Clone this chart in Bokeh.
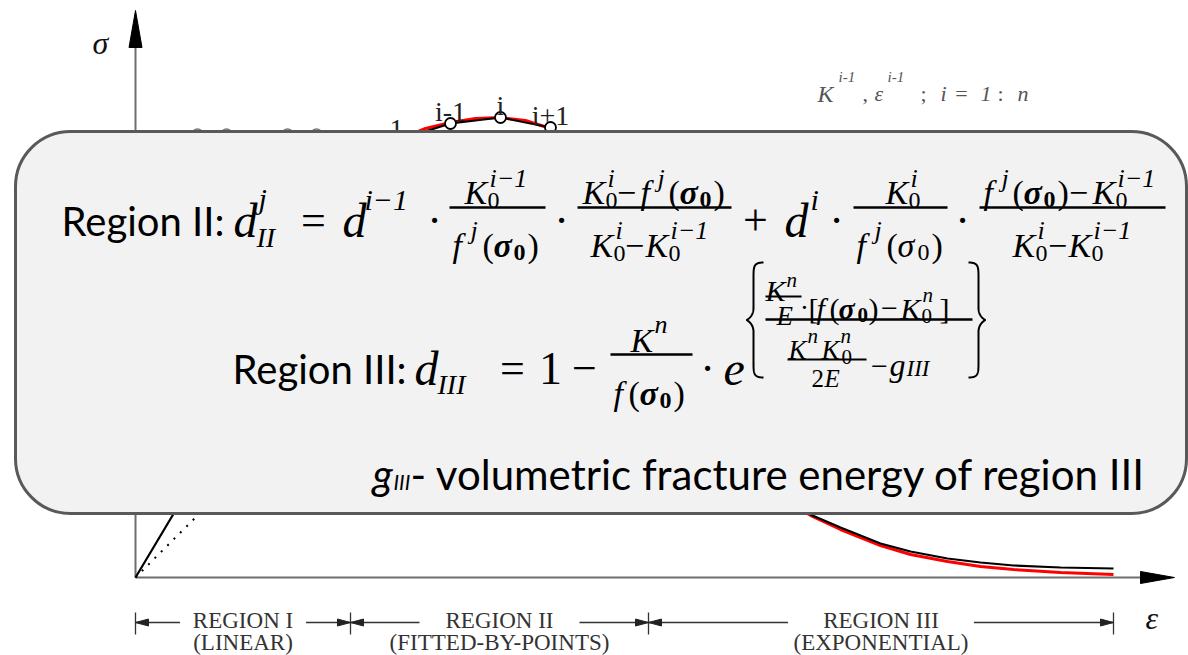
import numpy as np
from bokeh.plotting import figure
from bokeh.models import Range1d, BoxAnnotation, ColumnDataSource
from bokeh.embed import file_html
from bokeh.resources import INLINE

# ---------------- curve data (strain / stress units) ----------------
# Region I: linear elastic branch and dotted secant
lin_eps = [0, 261]
lin_sig = [0, 437]
secant_eps = [0, 190]
secant_sig = [0, 190]

# Region II: fitted points 1 ... i-1, i, i+1
fit_eps = [261, 315, 365, 415]
fit_sig = [437, 454, 460, 450]
fit_labels = ["1", "i-1", "i", "i+1"]

# earlier points of the hardening branch
trail_eps = [62, 91, 152, 181]
trail_sig = [443, 443, 443, 443]

# piecewise model (black) and measured curve (red)
model_eps = [0, 261, 315, 365, 415, 450, 500, 560, 620, 670, 677, 705, 725, 745, 775, 812,
             845, 878, 925, 978]
model_sig = [0, 437, 454, 460, 450, 420, 340, 230, 120, 66, 62, 50, 42, 34, 26, 19,
             15, 12, 10, 9]
actual_eps = [261, 290, 315, 340, 365, 390, 415, 450, 500, 560, 620, 670, 677, 705, 725, 745,
              775, 812, 845, 878, 925, 978]
actual_sig = [437, 449, 455, 459, 460, 457, 449, 418, 338, 228, 118, 65, 61, 48, 40, 32,
              23, 16, 11, 8, 5, 3]

# region extents along the strain axis
region_bounds = [0, 215, 513, 978]
region_names = ["REGION I", "REGION II", "REGION III"]
region_kinds = ["(LINEAR)", "(FITTED-BY-POINTS)", "(EXPONENTIAL)"]
region_gaps = [63, 80, 93]

SANS = "Lato"
SERIF = "Liberation Serif"
AXIS_C = "#6e6e6e"

p = figure(width=1188, height=655, x_range=Range1d(0, 1188), y_range=Range1d(655, 0),
           output_backend="svg", toolbar_location=None, min_border=0,
           x_axis_location=None, y_axis_location=None)
p.grid.visible = False
p.outline_line_color = None
p.background_fill_color = "white"
p.border_fill_color = "white"
p.extra_x_ranges = {"eps": Range1d(-135, 1053)}
p.extra_y_ranges = {"sig": Range1d(-78, 577)}
S = dict(x_range_name="eps", y_range_name="sig")

# ---------------- axes with arrow heads ----------------
p.segment(x0=[0, 0], y0=[0, 0], x1=[1010, 0], y1=[0, 535], line_color=AXIS_C, line_width=2, **S)
p.patches(xs=[[1039, 1005, 1005], [0, -6.5, 6.5]], ys=[[0, 6, -6], [567, 530, 530]],
          fill_color="black", line_color="black", **S)
p.text(x=[92, 1145], y=[42, 617], text=["σ", "ε"], text_font=SERIF, text_font_size="32px",
       text_font_style="italic", text_baseline="alphabetic", text_color="#111")

# ---------------- curves ----------------
p.line(secant_eps, secant_sig, line_color="black", line_width=2, line_dash="2 7", **S)
p.scatter(trail_eps, trail_sig, size=11, marker="circle", fill_color="white",
          line_color="#777", line_width=1.4, **S)
p.line(actual_eps, actual_sig, line_color="#ff0000", line_width=3, **S)
p.line(model_eps, model_sig, line_color="black", line_width=2.2, **S)
p.scatter(fit_eps, fit_sig, size=11, marker="circle", fill_color="white",
          line_color="black", line_width=1.8, **S)
p.text(x=fit_eps, y=[s + 12 for s in fit_sig], text=fit_labels, text_font=SERIF,
       text_font_size="28px", text_align="center", text_baseline="alphabetic",
       text_color="#222", **S)

# ---------------- region dimension line ----------------
DIM_Y = 622
mids = [(a + b) / 2 for a, b in zip(region_bounds[:-1], region_bounds[1:])]
p.segment(x0=region_bounds, y0=[612] * 4, x1=region_bounds, y1=[634] * 4,
          line_color="#333", line_width=1.3, x_range_name="eps")
sx0, sx1, hx, hy = [], [], [], []
for a, b, m, g in zip(region_bounds[:-1], region_bounds[1:], mids, region_gaps):
    sx0 += [a, m + g]
    sx1 += [m - g, b]
    hx += [[a, a + 13, a + 13], [b, b - 13, b - 13]]
    hy += [[DIM_Y, DIM_Y - 3.5, DIM_Y + 3.5]] * 2
p.segment(x0=sx0, y0=[DIM_Y] * len(sx0), x1=sx1, y1=[DIM_Y] * len(sx0),
          line_color="#333", line_width=1.3, x_range_name="eps")
p.patches(xs=hx, ys=hy, fill_color="#222", line_color="#222", x_range_name="eps")
p.text(x=mids, y=[620] * 3, text=region_names, text_font=SERIF, text_font_size="23px",
       text_align="center", text_baseline="alphabetic", text_color="#333", x_range_name="eps")
p.text(x=mids, y=[642] * 3, text=region_kinds, text_font=SERIF, text_font_size="23px",
       text_align="center", text_baseline="alphabetic", text_color="#333", x_range_name="eps")

rows = []


def put(x, y, s, size, style="italic", font=SERIF, align="left", color="black"):
    rows.append(dict(x=x, y=y, text=s, size=f"{size}px", style=style, font=font,
                     align=align, color=color))


def flush(level):
    src = ColumnDataSource(dict(x=[r["x"] for r in rows], y=[r["y"] for r in rows],
                                text=[r["text"] for r in rows], size=[r["size"] for r in rows],
                                style=[r["style"] for r in rows], font=[r["font"] for r in rows],
                                align=[r["align"] for r in rows],
                                color=[r["color"] for r in rows]))
    p.text(x="x", y="y", text="text", text_font="font", text_font_size="size",
           text_font_style="style", text_align="align", text_color="color",
           text_baseline="alphabetic", source=src, level=level)
    rows.clear()


# top-right note on the point sequence
G = "#555"
put(817, 93, "K", 24, color=G)
put(838, 76, "i-1", 15, color=G)
put(862, 93, ",", 22, "normal", color=G)
put(874, 93, "ε", 22, color=G)
put(887, 76, "i-1", 15, color=G)
put(920, 93, ";", 22, "normal", color=G)
put(940, 93, "i", 22, color=G)
put(961, 93, "=", 22, "normal", align="center", color=G)
put(980, 93, "1", 22, color=G)
put(997, 93, ":", 22, "normal", color=G)
put(1017, 93, "n", 22, color=G)
flush("glyph")

# ---------------- formula panel ----------------
panel = BoxAnnotation(left=15, right=1186, top=131, bottom=513, border_radius=55,
                      fill_color="#f2f2f2", fill_alpha=1, line_color="#595959",
                      line_alpha=1, line_width=3)
p.add_layout(panel)

bars = []


def bar(x0, x1, y, w=2.4):
    bars.append((x0, x1, y, w))


def brace(x_end, x_spine, x_tip, top, bottom, n=40):
    mid = (top + bottom) / 2
    t = np.linspace(0, 1, n)

    def cub(p0, p1, p2, p3):
        return ((1 - t) ** 3)[:, None] * p0 + (3 * (1 - t) ** 2 * t)[:, None] * p1 + \
               (3 * (1 - t) * t ** 2)[:, None] * p2 + (t ** 3)[:, None] * p3

    a = np.array
    c1 = cub(a([x_end, top]), a([x_spine, top]), a([x_spine, top + 4]), a([x_spine, top + 16]))
    c2 = cub(a([x_spine, mid - 12]), a([x_spine, mid - 3]), a([x_tip, mid]), a([x_tip, mid]))
    c3 = cub(a([x_tip, mid]), a([x_tip, mid]), a([x_spine, mid + 3]), a([x_spine, mid + 12]))
    c4 = cub(a([x_spine, bottom - 16]), a([x_spine, bottom - 4]), a([x_spine, bottom]), a([x_end, bottom]))
    pts = np.vstack([c1, c2, c3, c4])
    return list(pts[:, 0]), list(pts[:, 1])


# Region II
put(61, 220, "Region II:", 40, "normal", SANS)
put(233, 220, "d", 48)
put(258, 198, "j", 30)
put(256, 237, "II", 28)
put(313, 220, "=", 44, "normal", align="center")
put(342, 220, "d", 48)
put(364, 199, "i−1", 30)
put(434, 220, "·", 44, "normal", align="center")
bar(449, 545, 207)
put(464, 192, "K", 34); put(487, 200, "0", 24, "normal"); put(489, 178, "i−1", 26)
put(452, 245, "f", 34); put(470, 230, "j", 26); put(482, 245, "(", 34, "normal")
put(493, 245, "σ", 34, "bold italic"); put(513, 252, "0", 24, "bold"); put(527, 245, ")", 34, "normal")
put(561, 220, "·", 44, "normal", align="center")
bar(577, 731, 207)
put(582, 192, "K", 34); put(605, 200, "0", 24, "normal"); put(607, 178, "i", 26)
put(626, 192, "−", 34, "normal", align="center")
put(640, 192, "f", 34); put(657, 178, "j", 26); put(668, 192, "(", 34, "normal")
put(679, 192, "σ", 34, "bold italic"); put(699, 199, "0", 24, "bold"); put(713, 192, ")", 34, "normal")
put(590, 245, "K", 34); put(613, 253, "0", 24, "normal"); put(615, 230, "i", 26)
put(634, 245, "−", 34, "normal", align="center")
put(645, 245, "K", 34); put(668, 253, "0", 24, "normal"); put(670, 230, "i−1", 26)
put(755, 220, "+", 44, "normal", align="center")
put(784, 220, "d", 48); put(810, 199, "i", 30)
put(836, 220, "·", 44, "normal", align="center")
bar(853, 947, 207)
put(885, 192, "K", 34); put(908, 200, "0", 24, "normal"); put(910, 178, "i", 26)
put(856, 245, "f", 34); put(874, 230, "j", 26); put(886, 245, "(", 34, "normal")
put(897, 245, "σ", 34); put(917, 252, "0", 24, "normal"); put(931, 245, ")", 34, "normal")
put(962, 220, "·", 44, "normal", align="center")
bar(979, 1165, 207)
put(983, 192, "f", 34); put(1001, 178, "j", 26); put(1012, 192, "(", 34, "normal")
put(1023, 192, "σ", 34, "bold italic"); put(1043, 199, "0", 24, "bold"); put(1057, 192, ")", 34, "normal")
put(1078, 192, "−", 34, "normal", align="center")
put(1092, 192, "K", 34); put(1115, 200, "0", 24, "normal"); put(1117, 178, "i−1", 26)
put(1012, 245, "K", 34); put(1035, 253, "0", 24, "normal"); put(1037, 230, "i", 26)
put(1057, 245, "−", 34, "normal", align="center")
put(1068, 245, "K", 34); put(1091, 253, "0", 24, "normal"); put(1093, 230, "i−1", 26)

# Region III
B = 368
put(232, B, "Region III:", 40, "normal", SANS)
put(414, B, "d", 48); put(437, B + 16, "III", 28)
put(512, B, "=", 44, "normal", align="center")
put(550, B, "1", 46, "normal", align="center")
put(584, B, "−", 44, "normal", align="center")
bar(610, 692, B - 14)
put(630, B - 28, "K", 34); put(654, B - 44, "n", 26)
put(613, B + 25, "f", 34); put(628, B + 25, "(", 34, "normal"); put(639, B + 25, "σ", 34, "bold italic")
put(659, B + 32, "0", 24, "bold"); put(673, B + 25, ")", 34, "normal")
put(707, B, "·", 44, "normal", align="center")
put(723, B, "e", 48)
put(765, 290, "K", 30); put(786, 279, "n", 21)
bar(765, 801, 296, 2)
put(776, 315, "E", 27)
put(804, 307, "·", 28, "normal", align="center"); put(808, 308, "[", 30, "normal")
put(816, 308, "f", 30); put(829, 308, "(", 30, "normal"); put(838, 308, "σ", 30, "bold italic")
put(857, 314, "0", 21, "bold"); put(868, 308, ")", 30, "normal")
put(889, 308, "−", 30, "normal", align="center")
put(900, 308, "K", 30); put(921, 315, "0", 21, "normal"); put(922, 294, "n", 21)
put(939, 308, "]", 30, "normal")
bar(765, 972, 319)
put(788, 349, "K", 27); put(807, 335, "n", 21); put(821, 349, "K", 27); put(840, 335, "n", 21)
put(841, 356, "0", 21, "normal")
bar(787, 866, 359, 2)
put(811, 378, "2", 25, "normal"); put(824, 378, "E", 25)
put(879, 366, "−", 30, "normal", align="center")
put(889, 364, "g", 32); put(906, 368, "III", 23)

# fracture energy note
put(372, 473, "g", 42, "italic", SANS)
put(393, 481, "III", 21, "italic", SANS)
put(410, 473, "- volumetric fracture energy of region III", 42, "normal", SANS)

p.segment(x0=[b[0] for b in bars], y0=[b[2] for b in bars], x1=[b[1] for b in bars],
          y1=[b[2] for b in bars], line_width=[b[3] for b in bars], line_color="black",
          level="overlay")
bx1, by1 = brace(763, 753, 746, 262, 377)
bx2, by2 = brace(968, 978, 985, 262, 377)
p.multi_line(xs=[bx1, bx2], ys=[by1, by2], line_color="black", line_width=2, level="overlay")
flush("overlay")

open("out.html", "w").write(file_html(p, INLINE))
